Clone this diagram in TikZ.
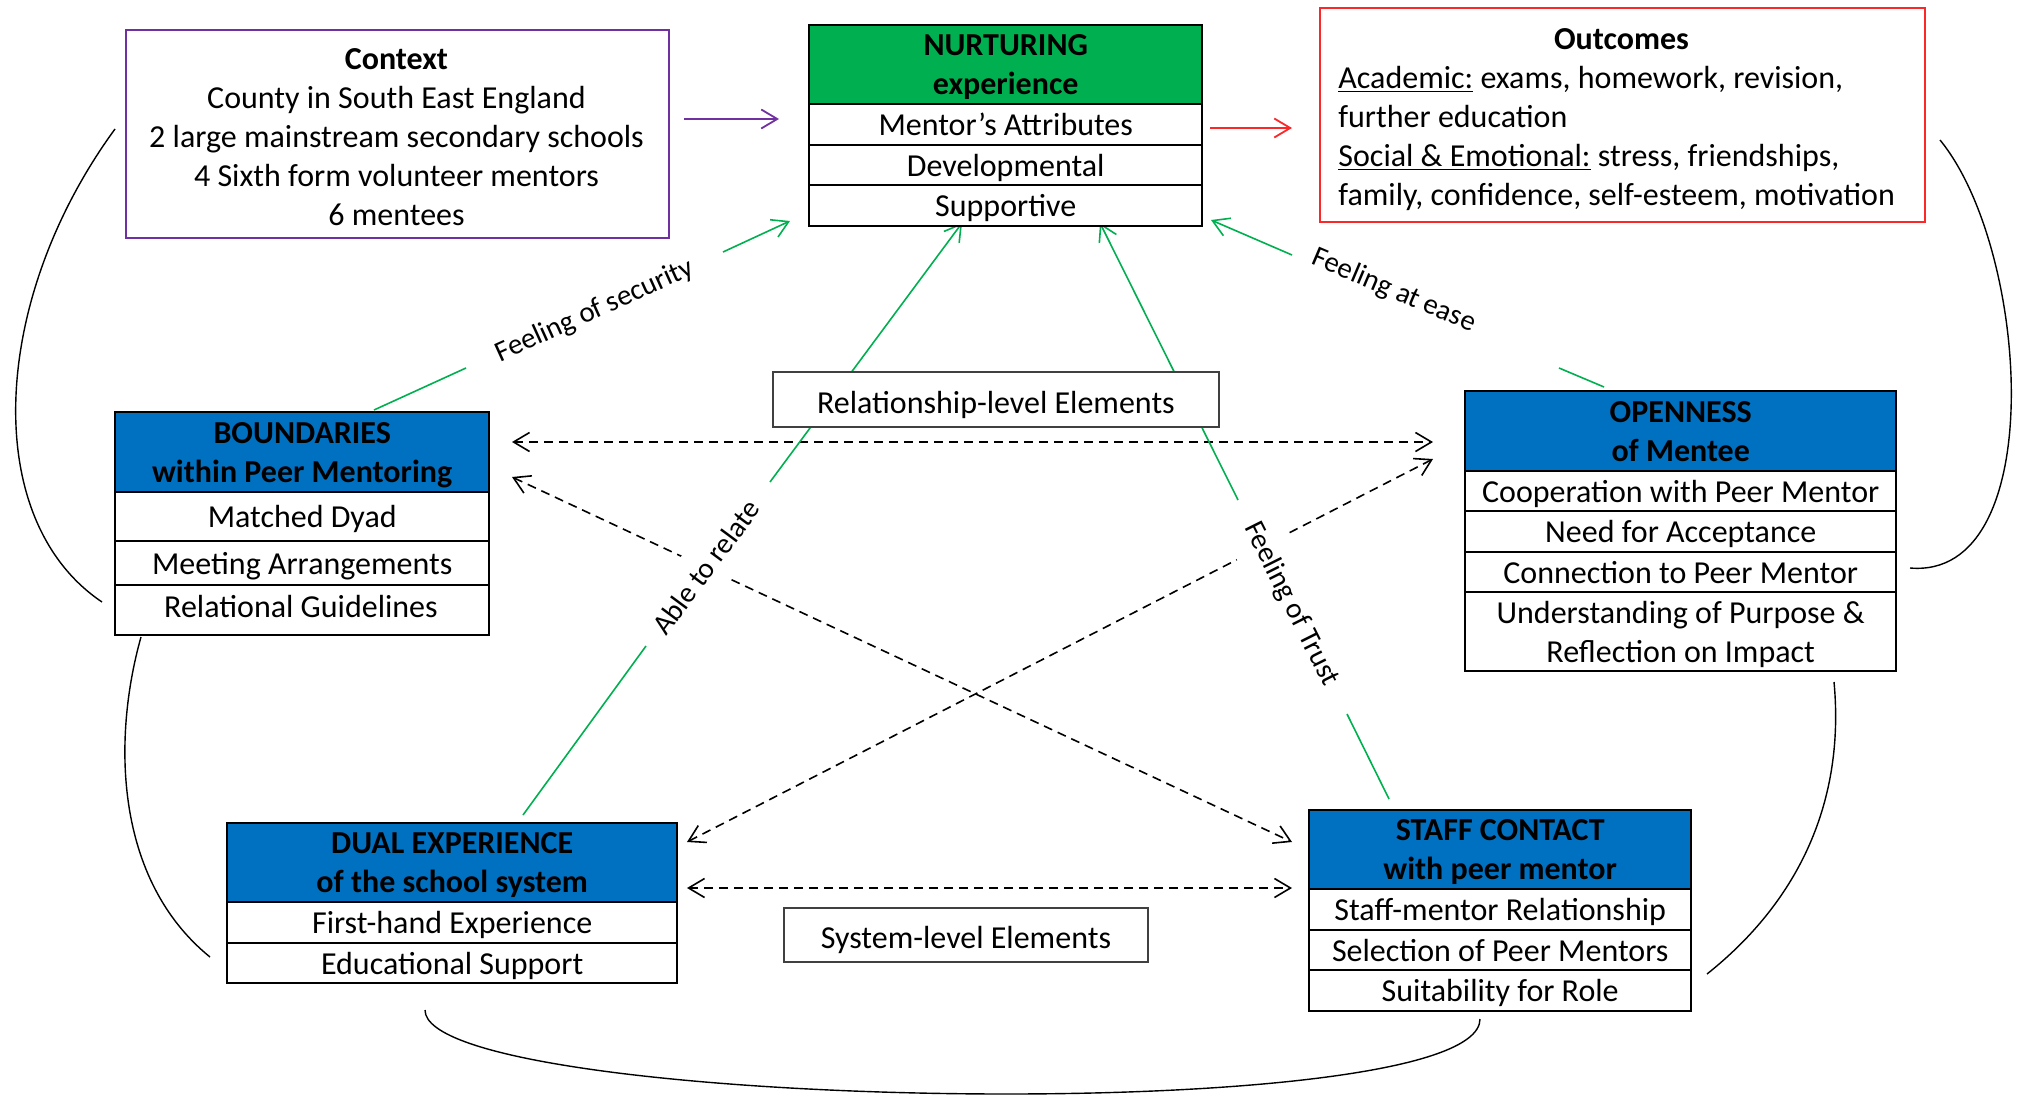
\documentclass[tikz,border=0pt]{standalone}
\usepackage{fontspec}
\setmainfont{Carlito}
\usetikzlibrary{arrows.meta}
\definecolor{hblue}{RGB}{0,112,192}
\definecolor{hgreen}{RGB}{0,176,80}
\definecolor{cpurple}{RGB}{112,48,160}
\definecolor{cred}{RGB}{250,40,40}
\newcommand{\fs}{\fontsize{16}{19.5}\selectfont}
\newcommand{\fl}{\fontsize{14.5}{17}\selectfont}
\begin{document}
\begin{tikzpicture}[x=0.5pt,y=-0.5pt,
  cell/.style={draw=black, line width=1.2pt, fill=white, inner sep=0pt, anchor=north west, align=center, font=\fs, text height=11pt, text depth=0pt},
  mcell/.style={draw=black, line width=1.2pt, fill=white, inner sep=0pt, anchor=north west, align=center, font=\fs, text depth=0pt},
  hdr/.style={mcell, fill=hblue, font=\fs\bfseries},
  ghdr/.style={mcell, fill=hgreen, font=\fs\bfseries},
  plainbox/.style={draw=black!75, line width=0.9pt, fill=white, inner sep=0pt, anchor=north west, font=\fs, text height=14pt, text depth=0pt},
  tipv/.style={-{Straight Barb[length=8pt,width=9.5pt]}},
  biv/.style={{Straight Barb[length=8pt,width=9.5pt]}-{Straight Barb[length=8pt,width=9.5pt]}},
  dashline/.style={biv, line width=0.8pt, dash pattern=on 4.5pt off 3pt},
  gseg/.style={hgreen, line width=0.8pt},
  gline/.style={tipv, hgreen, line width=0.8pt},
  arcline/.style={black, line width=0.7pt},
  lbl/.style={inner sep=1pt, font=\fl},
  cutlbl/.style={lbl, fill=white, inner xsep=2pt, inner ysep=8pt}
]
\useasboundingbox (0,0) rectangle (2027,1097);

% ---------- coordinates of connector ends ----------
\coordinate (pA) at (684,119);  \coordinate (pB) at (779,119);
\coordinate (rA) at (1210,128); \coordinate (rB) at (1292,128);
\coordinate (d1a) at (512,442); \coordinate (d1b) at (1433,442);
\coordinate (d2a) at (512,477); \coordinate (d2b) at (1292,842);
\coordinate (d3a) at (687,842); \coordinate (d3b) at (1433,459);
\coordinate (d4a) at (687,888); \coordinate (d4b) at (1292,888);
% green links: start, gap start, gap end, tip
\coordinate (g1a) at (374,410); \coordinate (g1m) at (466,368); \coordinate (g1n) at (723,252); \coordinate (g1b) at (790,221);
\coordinate (g2a) at (1604,387); \coordinate (g2m) at (1559,368); \coordinate (g2n) at (1292,255); \coordinate (g2b) at (1211,220);
\coordinate (g3a) at (523,815); \coordinate (g3m) at (646,646); \coordinate (g3n) at (770,482); \coordinate (g3b) at (962,223);
\coordinate (g4a) at (1389,799); \coordinate (g4m) at (1347,714); \coordinate (g4n) at (1238,500); \coordinate (g4b) at (1100,223);
% curved links
\coordinate (a1a) at (115,129); \coordinate (a1b) at (102,602);
\coordinate (a2a) at (141,637); \coordinate (a2b) at (210,957);
\coordinate (a3a) at (425,1010); \coordinate (a3b) at (1480,1019);
\coordinate (a4a) at (1707,974); \coordinate (a4b) at (1834,682);
\coordinate (a5a) at (1940,140); \coordinate (a5b) at (1910,568);

% ---------- curved links ----------
\draw[arcline] (a1a) .. controls (-10,300) and (-20,520) .. (a1b);
\draw[arcline] (a2a) .. controls (112,740) and (115,880) .. (a2b);
\draw[arcline] (a3a) .. controls (425,1110) and (1480,1130) .. (a3b);
\draw[arcline] (a4a) .. controls (1800,900) and (1845,800) .. (a4b);
\draw[arcline] (a5a) .. controls (2030,250) and (2050,580) .. (a5b);

% ---------- dashed links ----------
\draw[dashline] (d1a) -- (d1b);
\draw[dashline] (d2a) -- (d2b);
\draw[dashline] (d3a) -- (d3b);
\draw[dashline] (d4a) -- (d4b);

% ---------- green links ----------
\draw[gseg] (g1a) -- (g1m);  \draw[gline] (g1n) -- (g1b);
\draw[gseg] (g2a) -- (g2m);  \draw[gline] (g2n) -- (g2b);
\draw[gseg] (g3a) -- (g3m);  \draw[gline] (g3n) -- (g3b);
\draw[gseg] (g4a) -- (g4m);  \draw[gline] (g4n) -- (g4b);

% ---------- top arrows ----------
\draw[tipv, cpurple, line width=0.9pt] (pA) -- (pB);
\draw[tipv, cred, line width=0.9pt] (rA) -- (rB);

% ---------- Context ----------
\node[draw=cpurple, line width=0.8pt, fill=white, inner sep=0pt, anchor=north west,
      minimum width=271.5pt, minimum height=104pt] (ctx) at (125,29) {};
\node[align=center, font=\fs, inner sep=0pt] (ctxt) at (396.5,137.5)
  {\textbf{Context}\\County in South East England\\2 large mainstream secondary schools\\4 Sixth form volunteer mentors\\6 mentees};

% ---------- Outcomes ----------
\node[draw=cred, line width=0.8pt, fill=white, inner sep=0pt, anchor=north west,
      minimum width=302.5pt, minimum height=107pt] (out) at (1319,7) {};
\node[font=\fs\bfseries, inner sep=0pt] (outt) at (1621.5,39) {Outcomes};
\node[font=\fs, align=left, anchor=west, inner sep=0pt] (outb) at (1338,138)
  {\underline{Academic:} exams, homework, revision,\\further education\\\underline{Social \& Emotional:} stress, friendships,\\family, confidence, self-esteem, motivation};

% ---------- NURTURING ----------
\node[ghdr, minimum width=196.5pt, minimum height=39.5pt] (nurt) at (808,24) {NURTURING\\experience};
\node[cell, minimum width=196.5pt, minimum height=20.5pt] (nurt1) at (808,103) {Mentor’s Attributes};
\node[cell, minimum width=196.5pt, minimum height=20pt] (nurt2) at (808,144) {Developmental};
\node[cell, minimum width=196.5pt, minimum height=20.5pt] (nurt3) at (808,184) {Supportive};

% ---------- BOUNDARIES ----------
\node[hdr, minimum width=187pt, minimum height=40pt] (bnd) at (114,411) {BOUNDARIES\\within Peer Mentoring};
\node[cell, minimum width=187pt, minimum height=24.5pt] (bnd1) at (114,491) {Matched Dyad};
\node[cell, minimum width=187pt, minimum height=22pt] (bnd2) at (114,540) {Meeting Arrangements};
\node[cell, minimum width=187pt, minimum height=25pt] (bnd3) at (114,584) {};
\node[font=\fs, inner sep=0pt, text height=11pt, text depth=0pt] (bnd3t) at (301,606) {Relational Guidelines};

% ---------- OPENNESS ----------
\node[hdr, minimum width=215.5pt, minimum height=40pt] (opn) at (1464,390) {OPENNESS\\of Mentee};
\node[cell, minimum width=215.5pt, minimum height=20pt] (opn1) at (1464,470) {Cooperation with Peer Mentor};
\node[cell, minimum width=215.5pt, minimum height=20.5pt] (opn2) at (1464,510) {Need for Acceptance};
\node[cell, minimum width=215.5pt, minimum height=20pt] (opn3) at (1464,551) {Connection to Peer Mentor};
\node[mcell, minimum width=215.5pt, minimum height=39.5pt] (opn4) at (1464,591) {Understanding of Purpose \&\\Reflection on Impact};

% ---------- DUAL EXPERIENCE ----------
\node[hdr, minimum width=225pt, minimum height=39.5pt] (dual) at (226,822) {DUAL EXPERIENCE\\of the school system};
\node[cell, minimum width=225pt, minimum height=20.5pt] (dual1) at (226,901) {First-hand Experience};
\node[cell, minimum width=225pt, minimum height=20pt] (dual2) at (226,942) {Educational Support};

% ---------- STAFF CONTACT ----------
\node[hdr, minimum width=191pt, minimum height=39.5pt] (stf) at (1308,809) {STAFF CONTACT\\with peer mentor};
\node[cell, minimum width=191pt, minimum height=20.5pt] (stf1) at (1308,888) {Staff-mentor Relationship};
\node[cell, minimum width=191pt, minimum height=20pt] (stf2) at (1308,929) {Selection of Peer Mentors};
\node[cell, minimum width=191pt, minimum height=20.5pt] (stf3) at (1308,969) {Suitability for Role};

% ---------- level boxes ----------
\node[plainbox, minimum width=223pt, minimum height=27.5pt] (rel) at (772,371) {Relationship-level Elements};
\node[plainbox, minimum width=182pt, minimum height=27pt] (sys) at (783,907) {System-level Elements};

% ---------- labels on green links ----------
\node[lbl, rotate=24.4] (l1) at (595,311) {Feeling of security};
\node[lbl, rotate=-23] (l2) at (1394,291) {Feeling at ease};
\node[cutlbl, rotate=53.4] (l3) at (706,567) {Able to relate};
\node[cutlbl, rotate=-63.4] (l4) at (1291,604) {Feeling of Trust};
\end{tikzpicture}
\end{document}
